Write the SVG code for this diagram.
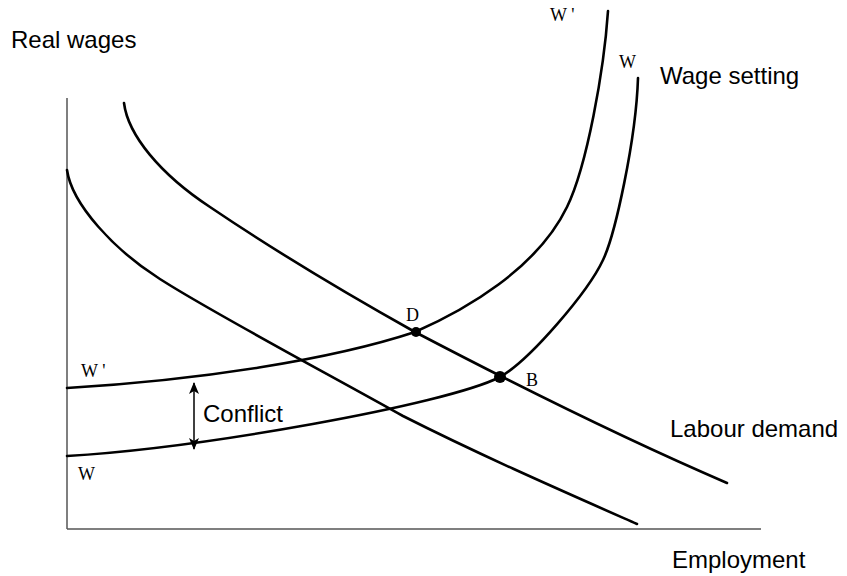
<svg xmlns="http://www.w3.org/2000/svg" width="847" height="576" viewBox="0 0 847 576">
<style>
.curve{fill:none;stroke:#000;stroke-width:2.6;stroke-linecap:round;stroke-linejoin:round}
.axis{fill:none;stroke:#555;stroke-width:1.5}
.sans{font-family:"Liberation Sans",Arial,sans-serif;font-size:24px;fill:#000}
.serif{font-family:"Liberation Serif","Times New Roman",serif;font-size:18px;fill:#000}
.dot{fill:#000}
</style>
<defs>
<marker id="ah" viewBox="0 0 12 10" refX="11" refY="5" markerWidth="12" markerHeight="10" markerUnits="userSpaceOnUse" orient="auto-start-reverse">
<path d="M0,0 L12,5 L0,10 L3,5 z" fill="#000"/>
</marker>
</defs>
<rect width="847" height="576" fill="#fff"/>
<g id="axes">
<line class="axis" x1="67" y1="98" x2="67" y2="529"/>
<line class="axis" x1="67" y1="529" x2="761" y2="529"/>
</g>
<g id="curves">
<path id="ld1" class="curve" d="M67,170 C72,205 115,250 157,277 C200,306 330,375 403,416 C480,455 560,490 637,524"/>
<path id="ld2" class="curve" d="M124,103 C128,135 160,174 210,207 C278,253 347,294 415,332 C520,387 620,437 727,483"/>
<path id="wsp" class="curve" d="M67,388 C200,380 330,360 415,332 C465,310 537,269 567,207 C587,166 604,70 608,11"/>
<path id="ws" class="curve" d="M67,456 C200,448 445,405 500,377 C530,360 588,292 603,260 C615,235 636,140 638,78"/>
</g>
<g id="connectors">
<line x1="194" y1="449" x2="194" y2="383" stroke="#000" stroke-width="1.5" marker-start="url(#ah)" marker-end="url(#ah)"/>
</g>
<g id="node-D">
<circle class="dot" cx="416" cy="332" r="5"/>
<text class="serif" x="406" y="321" font-size="17">D</text>
</g>
<g id="node-B">
<circle class="dot" cx="500" cy="377" r="6"/>
<text class="serif" x="526" y="386" font-size="17">B</text>
</g>
<g id="labels">
<text class="sans" x="11" y="48">Real wages</text>
<text class="sans" x="660" y="84">Wage setting</text>
<text class="sans" x="670" y="437">Labour demand</text>
<text class="sans" x="672" y="568">Employment</text>
<text class="sans" x="203" y="422">Conflict</text>
<text class="serif" x="81" y="377">W '</text>
<text class="serif" x="78" y="480">W</text>
<text class="serif" x="550" y="21" font-size="17">W '</text>
<text class="serif" x="619" y="68" font-size="17">W</text>
</g>
</svg>
